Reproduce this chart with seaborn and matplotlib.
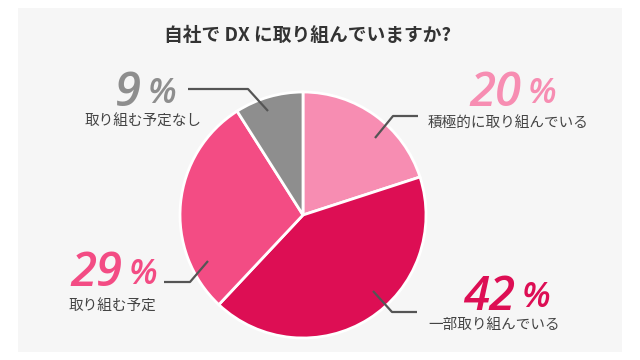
import matplotlib
matplotlib.use("Agg")
import matplotlib.pyplot as plt
import seaborn as sns
from matplotlib.patches import Rectangle

# data
categories = ["積極的に取り組んでいる", "一部取り組んでいる", "取り組む予定", "取り組む予定なし"]
shares = [20, 42, 29, 9]
colors = ["#f78db2", "#dd0e54", "#f34c84", "#8e8e8e"]
title = "自社で DX に取り組んでいますか?"

# label layout in pixel coords (y from top)
num_pos = [(523, 93), (517, 297), (124, 274), (143, 93)]     # split between number and %
text_pos = [(508, 123), (494, 325), (112, 307), (143, 122)]  # category label centre
leaders = [
    [(375, 138), (393, 116), (418, 116)],
    [(373, 291), (392, 312), (417, 312)],
    [(208, 261), (190, 282), (164, 282)],
    [(268, 111), (248, 89), (188, 89)],
]

sns.set_theme(style="white")
plt.rcParams["font.family"] = ["Noto Sans CJK JP", "DejaVu Sans"]

W, H = 640, 360
fig = plt.figure(figsize=(6.4, 3.6), dpi=100, facecolor="white")
ax = fig.add_axes([0, 0, 1, 1])

def fy(y):
    return H - y

ax.add_patch(Rectangle((18, fy(352)), 604, 344, facecolor="#f6f6f6",
                       edgecolor="none", zorder=0))

ax.pie(shares, colors=colors, startangle=90, counterclock=False,
       center=(303, fy(215)), radius=123, frame=True,
       wedgeprops=dict(edgecolor="white", linewidth=2, zorder=2))

ax.set_xlim(0, W)
ax.set_ylim(0, H)
ax.set_aspect("equal")
ax.axis("off")

ax.text(308, fy(35.5), title, ha="center", va="center", fontsize=13.5,
        fontweight="bold", color="#333333")

for cat, val, col, (sx, sy), (tx, ty), pts in zip(categories, shares, colors,
                                                    num_pos, text_pos, leaders):
    xs = [p[0] for p in pts]
    ys = [fy(p[1]) for p in pts]
    ax.plot(xs, ys, color="#555555", lw=1.6, solid_capstyle="butt", zorder=3)
    ax.text(sx - 2, fy(sy), str(val), ha="right", va="center", fontsize=34,
            fontstyle="italic", fontweight="semibold", color=col,
            family=["Open Sans", "DejaVu Sans"])
    ax.text(sx + 5, fy(sy) - 1, "%", ha="left", va="center", fontsize=25,
            fontstyle="italic", fontweight="semibold", color=col,
            family=["Open Sans", "DejaVu Sans"])
    ax.text(tx, fy(ty), cat, ha="center", va="center", fontsize=10.5,
            color="#444444")

fig.savefig("out.png", dpi=100, facecolor="white")
